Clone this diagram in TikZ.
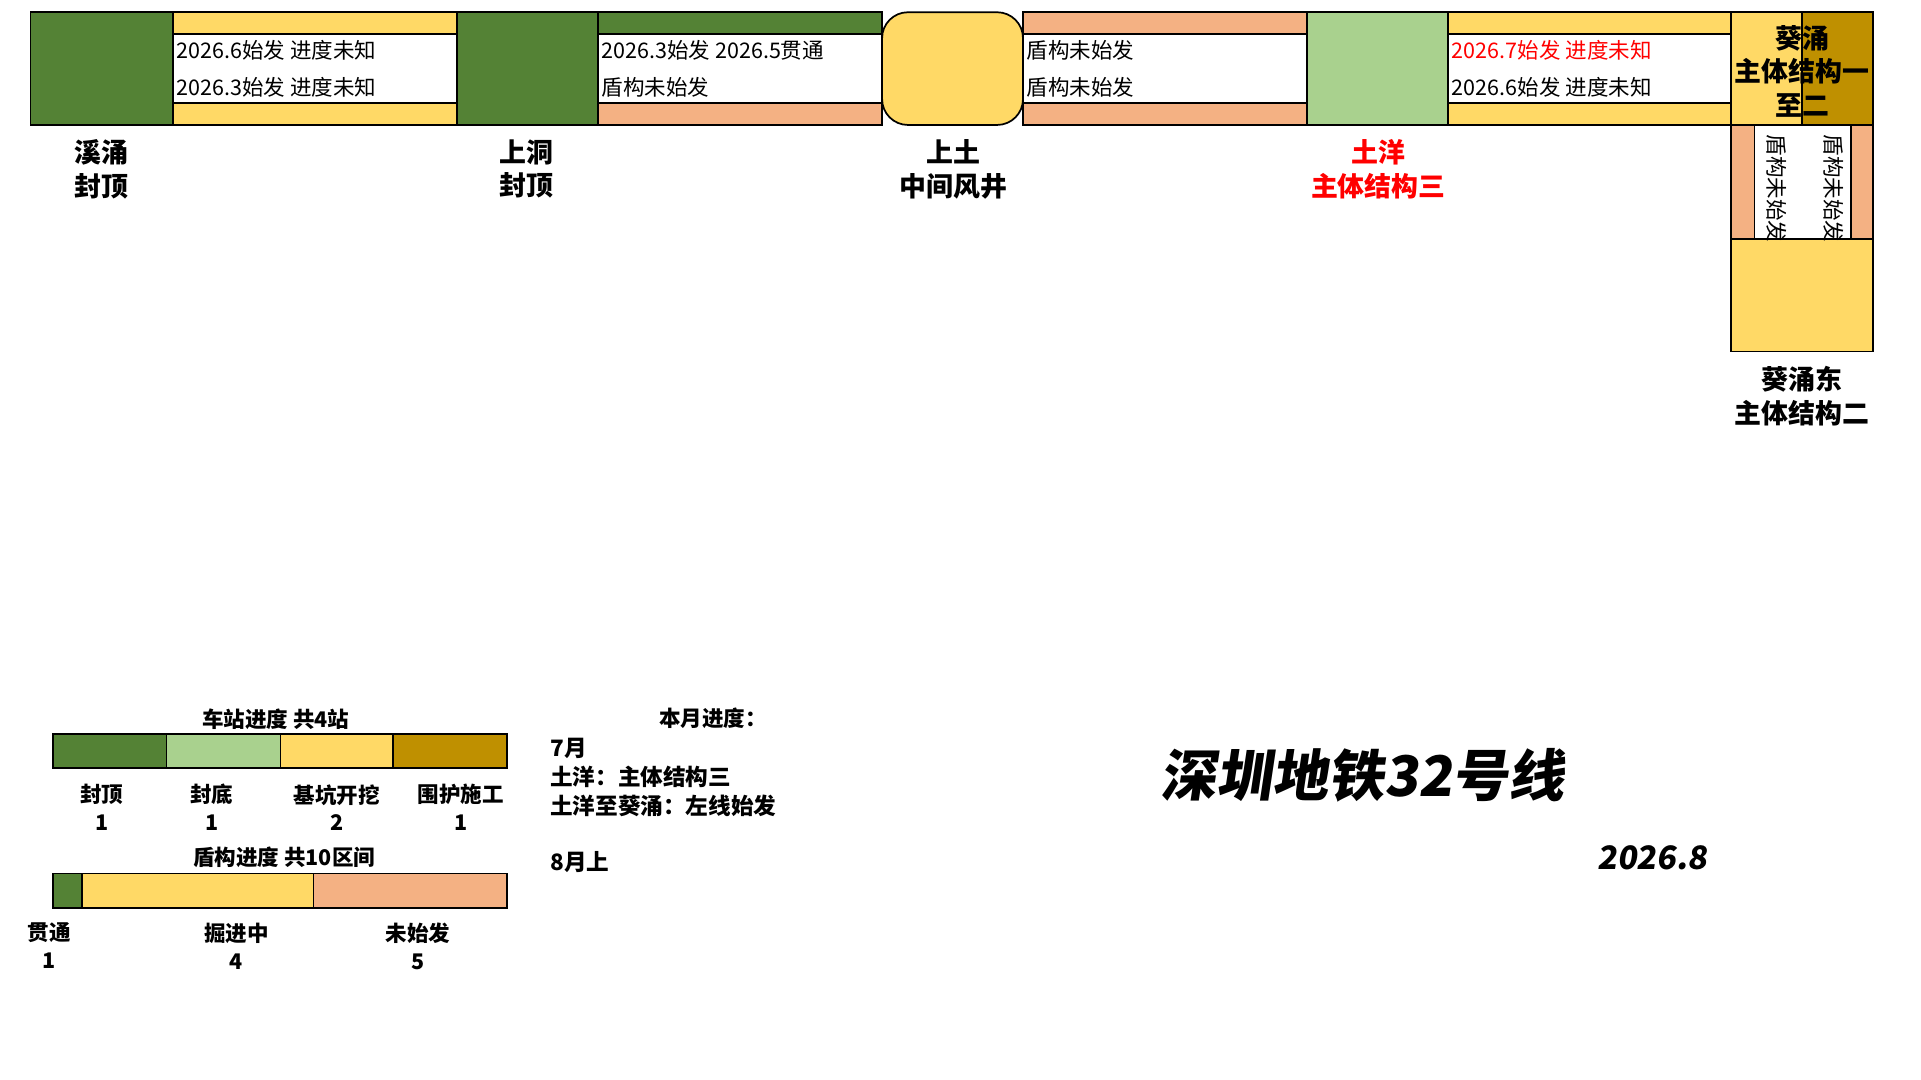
\documentclass[tikz,border=0pt]{standalone}
\usepackage{fontspec}
\setmainfont{Noto Sans CJK SC}
\newfontfamily\cjkb{Noto Sans CJK SC Black}
\usetikzlibrary{positioning}
\definecolor{dkgreen}{HTML}{548235}
\definecolor{ltgreen}{HTML}{A9D18E}
\definecolor{pitY}{HTML}{FFD966}
\definecolor{wallG}{HTML}{BF9000}
\definecolor{tbmS}{HTML}{F4B183}
\tikzset{
  box/.style={draw,line width=0.8pt},
  stlabel/.style={font=\fontsize{12.5}{15.5}\selectfont\bfseries,align=center,anchor=north},
  tunneltext/.style={font=\fontsize{10}{12}\selectfont,anchor=west,inner sep=1pt},
  legtext/.style={font=\fontsize{10}{13}\selectfont\bfseries,align=center,anchor=north},
}
\begin{document}
\begin{tikzpicture}[x=0.02cm,y=-0.02cm]
\useasboundingbox (0,0) rectangle (1568,881);
% stations
\draw[box,fill=dkgreen] (25,10) rectangle (141,102);
\draw[box,fill=dkgreen] (373,10) rectangle (488,102);
\draw[box,fill=pitY,rounded corners=12pt] (720,10) rectangle (835,102);
\draw[box,fill=ltgreen] (1067,10) rectangle (1182,102);
\draw[box,fill=pitY] (1413,10) rectangle (1471,102);
\draw[box,fill=wallG] (1471,10) rectangle (1529,102);
\draw[box,fill=pitY] (1413,195) rectangle (1529,287);
% tunnels
\draw[box,fill=pitY] (141,10) rectangle (373,28);
\draw[box] (141,28) rectangle (373,84);
\draw[box,fill=pitY] (141,84) rectangle (373,102);
\draw[box,fill=dkgreen] (488,10) rectangle (720,28);
\draw[box] (488,28) rectangle (720,84);
\draw[box,fill=tbmS] (488,84) rectangle (720,102);
\draw[box,fill=tbmS] (835,10) rectangle (1067,28);
\draw[box] (835,28) rectangle (1067,84);
\draw[box,fill=tbmS] (835,84) rectangle (1067,102);
\draw[box,fill=pitY] (1182,10) rectangle (1413,28);
\draw[box] (1182,28) rectangle (1413,84);
\draw[box,fill=pitY] (1182,84) rectangle (1413,102);
\draw[box,fill=tbmS] (1413,102) rectangle (1432,195);
\draw[box] (1432,102) rectangle (1511,195);
\draw[box,fill=tbmS] (1511,102) rectangle (1529,195);
% tunnel texts
\node[tunneltext] (t1a) at (142,41) {2026.6始发 进度未知};
\node[tunneltext] (t1b) at (142,71) {2026.3始发 进度未知};
\node[tunneltext] (t2a) at (489,41) {2026.3始发 2026.5贯通};
\node[tunneltext] (t2b) at (489,71) {盾构未始发};
\node[tunneltext] (t3a) at (836,41) {盾构未始发};
\node[tunneltext] (t3b) at (836,71) {盾构未始发};
\node[tunneltext,text=red] (t4a) at (1183,41) {2026.7始发 进度未知};
\node[tunneltext] (t4b) at (1183,71) {2026.6始发 进度未知};
\node[tunneltext,rotate=-90,anchor=west] (t5a) at (1450,108) {盾构未始发};
\node[tunneltext,rotate=-90,anchor=west] (t5b) at (1497,108) {盾构未始发};
% station labels
\node[stlabel] (xiyong) at (83,108) {溪涌\\封顶};
\node[stlabel] (shangdong) at (430,108) {上洞\\封顶};
\node[stlabel] (shangtu) at (778,108) {上土\\中间风井};
\node[stlabel,text=red] (tuyang) at (1125,108) {土洋\\主体结构三};
\node[stlabel,anchor=center] (kuiyong) at (1471,58) {葵涌\\主体结构一\\至二};
\node[stlabel] (kuiyongdong) at (1471,293) {葵涌东\\主体结构二};
% legend: stations
\node[legtext] (stleg) at (225,572) {车站进度 共4站};
\draw[box,fill=dkgreen] (43,599) rectangle (136,627);
\draw[box,fill=ltgreen] (136,599) rectangle (229,627);
\draw[box,fill=pitY] (229,599) rectangle (321,627);
\draw[box,fill=wallG] (321,599) rectangle (414,627);
\node[legtext] (l1) at (83,634) {封顶\\1};
\node[legtext] (l2) at (173,634) {封底\\1};
\node[legtext] (l3) at (275,634) {基坑开挖\\2};
\node[legtext] (l4) at (376,634) {围护施工\\1};
% legend: tunnels
\node[legtext] (tbmleg) at (232,685) {盾构进度 共10区间};
\draw[box,fill=dkgreen] (43,713) rectangle (67,741);
\draw[box,fill=pitY] (67,713) rectangle (256,741);
\draw[box,fill=tbmS] (256,713) rectangle (414,741);
\node[legtext] (m1) at (40,747) {贯通\\1};
\node[legtext] (m2) at (193,747) {掘进中\\4};
\node[legtext] (m3) at (341,747) {未始发\\5};
% month notes
\node[legtext] (month) at (582,572) {本月进度：};
\node[font=\fontsize{10.5}{13.5}\selectfont\bfseries,align=left,anchor=north west] (jul) at (443,596) {7月\\土洋：主体结构三\\土洋至葵涌：左线始发};
\node[font=\fontsize{10.5}{13.5}\selectfont\bfseries,anchor=north west] (aug) at (443,689) {8月上};
% title
\node[font=\cjkb\fontsize{26}{30}\selectfont,xslant=0.15] (title) at (1115,633) {深圳地铁32号线};
\node[font=\fontsize{15}{18}\selectfont\bfseries\itshape,xslant=0.15] (date) at (1350,700) {2026.8};
\end{tikzpicture}
\end{document}
